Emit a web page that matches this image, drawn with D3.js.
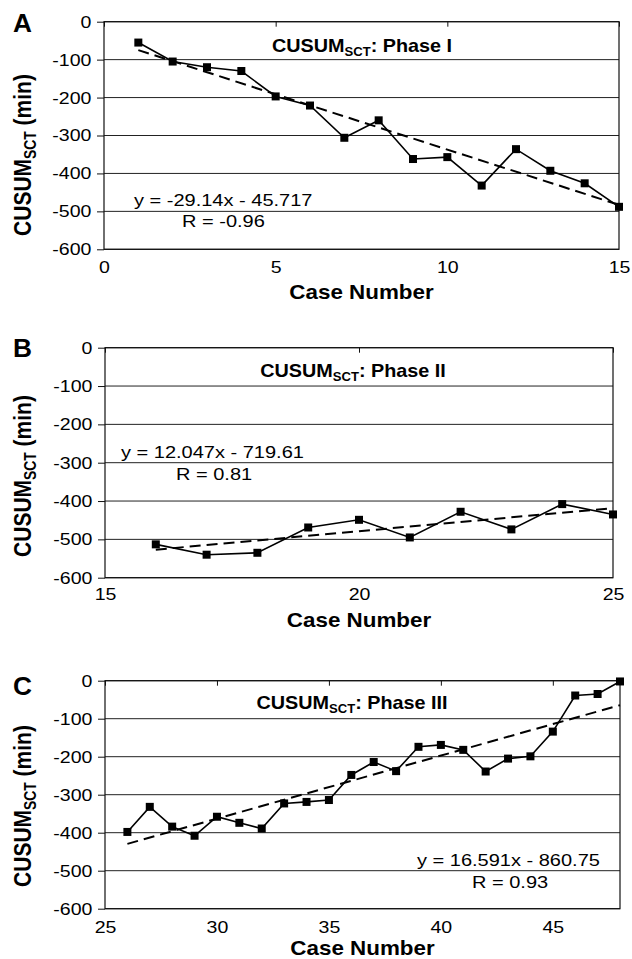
<!DOCTYPE html>
<html>
<head>
<meta charset="utf-8">
<script src="https://cdn.jsdelivr.net/npm/d3@7"></script>
<style>
  body { margin: 0; background: #fff; }
  svg { display: block; }
  text { font-family: "Liberation Sans", Arial, Helvetica, sans-serif; fill: #000; }
</style>
</head>
<body>
<svg id="chart" width="632" height="959"></svg>
<script>
// values

const casesA = [1, 2, 3, 4, 5, 6, 7, 8, 9, 10, 11, 12, 13, 14, 15]
const cusumA = [-55, -105, -120, -130, -197, -221, -306, -260, -362, -357, -432, -336, -393, -426, -488]

const casesB = [16, 17, 18, 19, 20, 21, 22, 23, 24, 25]
const cusumB = [-513, -540, -535, -469, -449, -495, -428, -474, -408, -435]

const casesC = [26, 27, 28, 29, 30, 31, 32, 33, 34, 35, 36, 37, 38, 39, 40, 41, 42, 43, 44, 45, 46, 47, 48]
const cusumC = [-398, -332, -384, -408, -358, -374, -389, -323, -319, -314, -248, -214, -238,
                -174, -169, -182, -239, -205, -199, -134, -39, -35, -2]

// trendline equations printed on the chart
const slopes     = [-29.14, 12.047, 16.591]
const intercepts = [-45.717, -719.61, -860.75]
const rValues    = [-0.96, 0.81, 0.93]

const panelLetters = ['A', 'B', 'C']
const phaseNames   = ['I', 'II', 'III']

const yTicks  = [0, -100, -200, -300, -400, -500, -600]
const xTicksA = [0, 5, 10, 15]
const xTicksB = [15, 20, 25]
const xTicksC = [25, 30, 35, 40, 45]

const xDomains = [[0, 15], [15, 25], [25, 48]]

// layout for each panel (pixels)
const layout = [
    { x0: 104, x1: 619, y0: 21.7,  y1: 249.3, letterY: 32,  titleX: 362, titleY: 52,
      eqX: 134, eqY: 206, rX: 182, rY: 227, tickY: 273, xTitleY: 299, yTitleY: 155 },
    { x0: 105, x1: 613, y0: 347.7, y1: 577.7, letterY: 357, titleX: 353, titleY: 377,
      eqX: 121, eqY: 458, rX: 176, rY: 480, tickY: 600, xTitleY: 627, yTitleY: 476 },
    { x0: 105, x1: 620, y0: 680.7, y1: 908.7, letterY: 695, titleX: 352, titleY: 709,
      eqX: 417, eqY: 866, rX: 472, rY: 888, tickY: 933, xTitleY: 955, yTitleY: 806 }
]

const TICK_SX = 1.15
const EQ_SX = 1.25

// put a text at x,y, stretched horizontally by sx
const txt = (g, x, y, s, o = {}) => g.append('text')
    .attr('transform', `translate(${x},${y}) scale(${o.sx || 1},1)`)
    .attr('text-anchor', o.anchor || 'start')
    .style('font-size', (o.size || 16) + 'px')
    .style('font-weight', o.bold ? 'bold' : 'normal')
    .text(s)

// CUSUM with "SCT" as subscript, followed by rest
const cusumLabel = (el, size, rest) => {
    el.text(null)
    el.append('tspan').text('CUSUM')
    el.append('tspan').style('font-size', (size * 0.66) + 'px').attr('dy', size * 0.22).text('SCT')
    el.append('tspan').attr('dy', -size * 0.22).text(rest)
}

const draw = () => {

    const svg = d3.select('#chart')

    const series = [
        { cases: casesA, values: cusumA, xTicks: xTicksA },
        { cases: casesB, values: cusumB, xTicks: xTicksB },
        { cases: casesC, values: cusumC, xTicks: xTicksC }
    ]

    series.forEach((s, i) => {

        const L = layout[i]
        const g = svg.append('g')

        const x = d3.scaleLinear().domain(xDomains[i]).range([L.x0, L.x1])
        const y = d3.scaleLinear().domain([0, -600]).range([L.y0, L.y1])

        // horizontal gridlines
        g.selectAll('line.grid')
            .data(yTicks)
            .enter()
            .append('line')
            .attr('x1', L.x0).attr('x2', L.x1)
            .attr('y1', d => y(d)).attr('y2', d => y(d))
            .attr('stroke', '#222')
            .attr('stroke-width', 1)

        // frame
        g.append('rect')
            .attr('x', L.x0).attr('y', L.y0)
            .attr('width', L.x1 - L.x0).attr('height', L.y1 - L.y0)
            .attr('fill', 'none')
            .attr('stroke', '#111')
            .attr('stroke-width', 1.2)

        // left axis, ticks sticking out; plain hyphen like the original
        const yAxis = g.append('g')
            .attr('transform', `translate(${L.x0},0)`)
            .call(d3.axisLeft(y).tickValues(yTicks).tickSize(7).tickPadding(4).tickFormat(d => String(d)))
        yAxis.select('.domain').remove()
        yAxis.selectAll('line').attr('stroke', '#111')
        yAxis.selectAll('text')
            .attr('transform', `scale(${TICK_SX},1)`)
            .style('font-size', '17px')
            .style('font-family', null)

        // bottom labels
        const xAxis = g.append('g')
            .attr('transform', `translate(0,${L.y1})`)
            .call(d3.axisBottom(x).tickValues(s.xTicks).tickSize(0).tickFormat(d => String(d)))
        xAxis.select('.domain').remove()
        xAxis.selectAll('text')
            .attr('y', L.tickY - L.y1)
            .attr('dy', null)
            .attr('transform', `scale(${TICK_SX},1)`)
            .style('font-size', '17px')
            .style('font-family', null)

        // small ticks hanging from the top edge
        const topAxis = g.append('g')
            .attr('transform', `translate(0,${L.y0})`)
            .call(d3.axisTop(x).tickValues(s.xTicks).tickSize(-5).tickFormat(''))
        topAxis.select('.domain').remove()
        topAxis.selectAll('line').attr('stroke', '#111')

        // data line
        const line = d3.line()
            .x((d, j) => x(s.cases[j]))
            .y(d => y(d))

        g.append('path')
            .datum(s.values)
            .attr('d', line)
            .attr('fill', 'none')
            .attr('stroke', '#000')
            .attr('stroke-width', 1.6)

        // linear trendline from the printed equation
        const first = s.cases[0]
        const last = s.cases[s.cases.length - 1]
        g.append('line')
            .attr('x1', x(first)).attr('y1', y(slopes[i] * first + intercepts[i]))
            .attr('x2', x(last)).attr('y2', y(slopes[i] * last + intercepts[i]))
            .attr('stroke', '#000')
            .attr('stroke-width', 2)
            .attr('stroke-dasharray', '11,6')

        // square markers
        g.selectAll('rect.mk')
            .data(s.values)
            .enter()
            .append('rect')
            .attr('x', (d, j) => x(s.cases[j]) - 4)
            .attr('y', d => y(d) - 4)
            .attr('width', 8).attr('height', 8)
            .attr('fill', '#000')

        // panel letter
        txt(g, 13, L.letterY, panelLetters[i], { size: 25, bold: true, sx: 1.05 })

        // panel title
        const title = txt(g, L.titleX, L.titleY, '', { size: 18, bold: true, sx: 1.1, anchor: 'middle' })
        cusumLabel(title, 18, ': Phase ' + phaseNames[i])

        // equation + R
        const sign = intercepts[i] < 0 ? ' - ' : ' + '
        txt(g, L.eqX, L.eqY, `y = ${slopes[i]}x${sign}${Math.abs(intercepts[i])}`, { size: 16, sx: EQ_SX })
        txt(g, L.rX, L.rY, `R = ${rValues[i]}`, { size: 16, sx: EQ_SX })

        // axis titles
        txt(g, (L.x0 + L.x1) / 2, L.xTitleY, 'Case Number', { size: 20, bold: true, sx: 1.12, anchor: 'middle' })

        const yTitle = g.append('text')
            .attr('transform', `translate(31,${L.yTitleY}) scale(1.13,1) rotate(-90)`)
            .attr('text-anchor', 'middle')
            .style('font-size', '21px')
            .style('font-weight', 'bold')
        cusumLabel(yTitle, 21, ' (min)')
    })
}

draw()
</script>
</body>
</html>
